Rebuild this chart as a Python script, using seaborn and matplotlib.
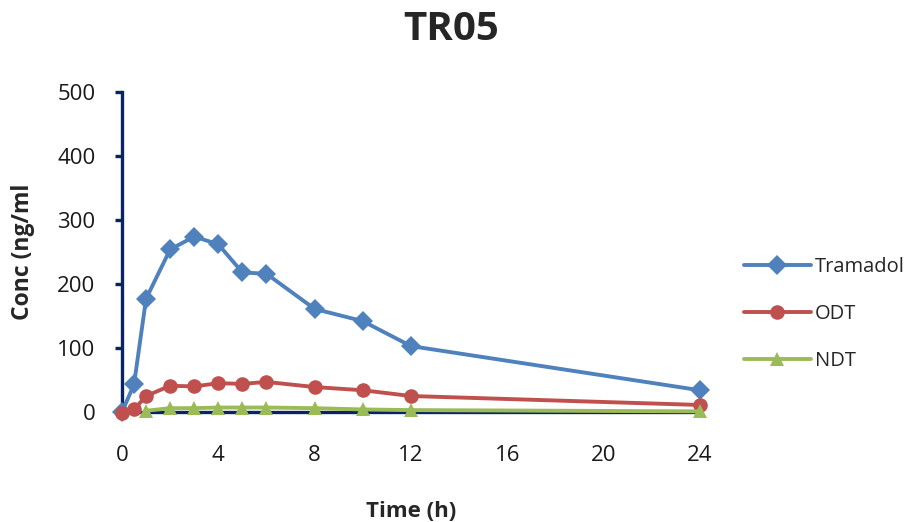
import matplotlib
matplotlib.use("Agg")
import matplotlib.pyplot as plt
import seaborn as sns
import pandas as pd

# Data
tramadol_time = [0, 0.5, 1, 2, 3, 4, 5, 6, 8, 10, 12, 24]
tramadol_conc = [0, 43, 177, 254, 274, 262, 218, 216, 161, 142, 103, 34]
odt_time = [0, 0.5, 1, 2, 3, 4, 5, 6, 8, 10, 12, 24]
odt_conc = [-2, 4, 25, 41, 40, 45, 44, 47, 39, 34, 25, 11]
ndt_time = [1, 2, 3, 4, 5, 6, 8, 10, 12, 24]
ndt_conc = [2, 6, 6, 7, 7, 7, 6, 4, 3, 1]
series_names = ["Tramadol", "ODT", "NDT"]
x_ticks = [0, 4, 8, 12, 16, 20, 24]
y_ticks = [0, 100, 200, 300, 400, 500]

rows = []
for name, t, c in zip(series_names, [tramadol_time, odt_time, ndt_time],
                      [tramadol_conc, odt_conc, ndt_conc]):
    for ti, ci in zip(t, c):
        rows.append({"Time": ti, "Conc": ci, "Drug": name})
df = pd.DataFrame(rows)

sns.set_style("white")
plt.rcParams["font.family"] = ["Open Sans", "DejaVu Sans"]

navy = "#0B2264"
palette = {"Tramadol": "#4F81BD", "ODT": "#C0504D", "NDT": "#9BBB59"}

fig = plt.figure(figsize=(9.09, 5.22), dpi=100)
ax = fig.add_axes([0.1342, 0.2107, 0.6358, 0.6131])

sns.lineplot(data=df, x="Time", y="Conc", hue="Drug", style="Drug",
             hue_order=series_names, style_order=series_names,
             palette=palette, markers={"Tramadol": "D", "ODT": "o", "NDT": "^"},
             dashes=False, linewidth=2.8, markersize=10.5, markeredgewidth=0,
             ax=ax, zorder=3, clip_on=False)
for ln in ax.lines:
    ln.set_clip_on(False)
    ln.set_zorder(3)

ax.set_xlim(0, 24)
ax.set_ylim(0, 500)
ax.set_xticks(x_ticks)
ax.set_yticks(y_ticks)

for s in ["top", "right"]:
    ax.spines[s].set_visible(False)
for s in ["left", "bottom"]:
    ax.spines[s].set_color(navy)
    ax.spines[s].set_linewidth(2.4)
    ax.spines[s].set_zorder(2.5)

ax.tick_params(axis="y", direction="out", length=5, width=2.4, color=navy,
               labelsize=16, pad=14, left=True)
ax.tick_params(axis="x", length=0, labelsize=16, pad=24)
for lbl in ax.get_xticklabels() + ax.get_yticklabels():
    lbl.set_color("#1a1a1a")

ax.set_xlabel("Time (h)", fontsize=16, fontweight="bold", labelpad=25)
ax.set_ylabel("Conc (ng/ml", fontsize=16.5, fontweight="bold", labelpad=16)
fig.suptitle("TR05", fontsize=29, fontweight="bold", y=0.98, x=0.496)

leg = ax.legend(loc="upper left", bbox_to_anchor=(1.045, 0.542), frameon=False,
                fontsize=14.5, labelspacing=1.35, handlelength=3.3,
                handletextpad=0.2, title=None)

fig.savefig("out.png", dpi=100)
